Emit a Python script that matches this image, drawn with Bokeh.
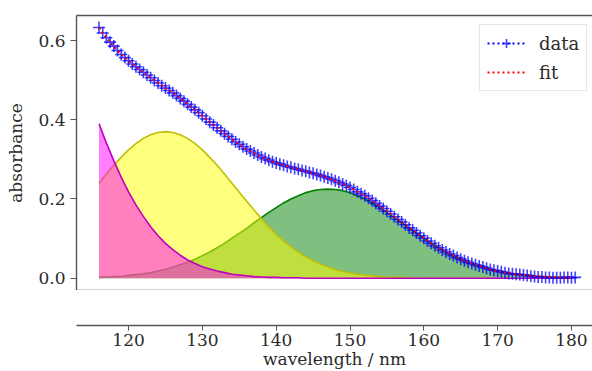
from bokeh.plotting import figure
from bokeh.models import Range1d, LinearAxis, FixedTicker, Legend, LegendItem
from bokeh.layouts import column
from bokeh.embed import file_html
from bokeh.resources import INLINE

# ---- data ----
comp_wavelength = [116, 117, 118, 119, 120, 121, 122, 123, 124, 125,
                   126, 127, 128, 129, 130, 131, 132, 133, 134, 135,
                   136, 137, 138, 139, 140, 141, 142, 143, 144, 145,
                   146, 147, 148, 149, 150, 151, 152, 153, 154, 155,
                   156, 157, 158, 159, 160, 161, 162, 163, 164, 165,
                   166, 167, 168, 169, 170, 171, 172, 173, 174, 175,
                   176, 177, 178, 179, 180]

comp_magenta = [0.390, 0.341, 0.297, 0.255, 0.218, 0.185, 0.156, 0.130, 0.107, 0.088,
                0.072, 0.058, 0.046, 0.037, 0.029, 0.023, 0.018, 0.014, 0.010, 0.008,
                0.006, 0.004, 0.003, 0.002, 0.002, 0.001, 0.001, 0.001, 0.000, 0.000,
                0.000, 0.000, 0.000, 0.000, 0.000, 0.000, 0.000, 0.000, 0.000, 0.000,
                0.000, 0.000, 0.000, 0.000, 0.000, 0.000, 0.000, 0.000, 0.000, 0.000,
                0.000, 0.000, 0.000, 0.000, 0.000, 0.000, 0.000, 0.000, 0.000, 0.000,
                0.000, 0.000, 0.000, 0.000, 0.000]

comp_yellow = [0.240, 0.263, 0.285, 0.305, 0.324, 0.340, 0.353, 0.362, 0.368, 0.370,
               0.368, 0.362, 0.353, 0.340, 0.324, 0.305, 0.285, 0.263, 0.240, 0.217,
               0.194, 0.172, 0.150, 0.130, 0.111, 0.094, 0.079, 0.066, 0.054, 0.044,
               0.035, 0.028, 0.022, 0.017, 0.013, 0.010, 0.008, 0.006, 0.004, 0.003,
               0.002, 0.002, 0.001, 0.001, 0.000, 0.000, 0.000, 0.000, 0.000, 0.000,
               0.000, 0.000, 0.000, 0.000, 0.000, 0.000, 0.000, 0.000, 0.000, 0.000,
               0.000, 0.000, 0.000, 0.000, 0.000]

comp_green = [0.002, 0.003, 0.004, 0.005, 0.007, 0.009, 0.011, 0.014, 0.018, 0.022,
              0.028, 0.034, 0.040, 0.048, 0.057, 0.066, 0.077, 0.088, 0.101, 0.113,
              0.126, 0.140, 0.153, 0.166, 0.178, 0.190, 0.200, 0.208, 0.216, 0.221,
              0.224, 0.225, 0.224, 0.221, 0.216, 0.208, 0.200, 0.190, 0.178, 0.166,
              0.153, 0.140, 0.126, 0.113, 0.101, 0.088, 0.077, 0.066, 0.057, 0.048,
              0.040, 0.034, 0.028, 0.022, 0.018, 0.014, 0.011, 0.009, 0.007, 0.005,
              0.004, 0.003, 0.002, 0.002, 0.001]

fit_values = [0.632, 0.607, 0.586, 0.565, 0.549, 0.534, 0.520, 0.506, 0.493, 0.480,
              0.468, 0.454, 0.439, 0.425, 0.410, 0.394, 0.380, 0.365, 0.351, 0.338,
              0.326, 0.316, 0.306, 0.298, 0.291, 0.285, 0.280, 0.275, 0.270, 0.265,
              0.259, 0.253, 0.246, 0.238, 0.229, 0.218, 0.208, 0.196, 0.182, 0.169,
              0.155, 0.142, 0.127, 0.114, 0.101, 0.088, 0.077, 0.066, 0.057, 0.048,
              0.040, 0.034, 0.028, 0.022, 0.018, 0.014, 0.011, 0.009, 0.007, 0.005,
              0.004, 0.003, 0.002, 0.002, 0.001]

data_wavelength = [116.0, 116.5, 117.0, 117.5, 118.0, 118.5, 119.0, 119.5, 120.0, 120.5,
                   121.0, 121.5, 122.0, 122.5, 123.0, 123.5, 124.0, 124.5, 125.0, 125.5,
                   126.0, 126.5, 127.0, 127.5, 128.0, 128.5, 129.0, 129.5, 130.0, 130.5,
                   131.0, 131.5, 132.0, 132.5, 133.0, 133.5, 134.0, 134.5, 135.0, 135.5,
                   136.0, 136.5, 137.0, 137.5, 138.0, 138.5, 139.0, 139.5, 140.0, 140.5,
                   141.0, 141.5, 142.0, 142.5, 143.0, 143.5, 144.0, 144.5, 145.0, 145.5,
                   146.0, 146.5, 147.0, 147.5, 148.0, 148.5, 149.0, 149.5, 150.0, 150.5,
                   151.0, 151.5, 152.0, 152.5, 153.0, 153.5, 154.0, 154.5, 155.0, 155.5,
                   156.0, 156.5, 157.0, 157.5, 158.0, 158.5, 159.0, 159.5, 160.0, 160.5,
                   161.0, 161.5, 162.0, 162.5, 163.0, 163.5, 164.0, 164.5, 165.0, 165.5,
                   166.0, 166.5, 167.0, 167.5, 168.0, 168.5, 169.0, 169.5, 170.0, 170.5,
                   171.0, 171.5, 172.0, 172.5, 173.0, 173.5, 174.0, 174.5, 175.0, 175.5,
                   176.0, 176.5, 177.0, 177.5, 178.0, 178.5, 179.0, 179.5, 180.0, 180.5]

data_values = [0.633, 0.619, 0.607, 0.596, 0.586, 0.575, 0.565, 0.557, 0.549, 0.541,
               0.534, 0.527, 0.520, 0.513, 0.506, 0.499, 0.493, 0.486, 0.480, 0.474,
               0.468, 0.461, 0.454, 0.447, 0.439, 0.432, 0.425, 0.418, 0.410, 0.402,
               0.394, 0.387, 0.380, 0.372, 0.365, 0.358, 0.351, 0.344, 0.338, 0.332,
               0.326, 0.321, 0.316, 0.311, 0.306, 0.302, 0.298, 0.294, 0.291, 0.288,
               0.285, 0.282, 0.280, 0.277, 0.275, 0.272, 0.270, 0.267, 0.265, 0.262,
               0.259, 0.256, 0.253, 0.250, 0.246, 0.242, 0.238, 0.234, 0.229, 0.224,
               0.218, 0.213, 0.208, 0.202, 0.196, 0.189, 0.182, 0.176, 0.169, 0.162,
               0.155, 0.148, 0.142, 0.135, 0.127, 0.121, 0.114, 0.107, 0.101, 0.094,
               0.088, 0.082, 0.077, 0.071, 0.066, 0.061, 0.057, 0.052, 0.048, 0.044,
               0.040, 0.037, 0.034, 0.031, 0.028, 0.025, 0.022, 0.020, 0.018, 0.016,
               0.014, 0.012, 0.011, 0.010, 0.009, 0.008, 0.007, 0.005, 0.004, 0.003,
               0.003, 0.002, 0.002, 0.001, 0.001, 0.001, 0.002, 0.002, 0.001, 0.002]

y_ticks = [0.0, 0.2, 0.4, 0.6]
y_tick_labels = ["0.0", "0.2", "0.4", "0.6"]
x_ticks = [120, 130, 140, 150, 160, 170, 180]

# ---- styling ----
FONT = "DejaVu Serif"
SPINE = "#555555"
TEXT = "#2a2a2a"

x_range = Range1d(112.95, 182.85)

p1 = figure(width=592, height=290, x_range=x_range, y_range=Range1d(-0.0311, 0.6633),
            output_backend="svg", toolbar_location=None,
            min_border_left=76, min_border_right=0, min_border_top=15, min_border_bottom=0)
p1.grid.visible = False
p1.outline_line_color = None
p1.background_fill_color = "white"

# left axis
ya = p1.yaxis[0]
ya.ticker = FixedTicker(ticks=y_ticks)
ya.major_label_overrides = {t: l for t, l in zip(y_ticks, y_tick_labels)}
ya.axis_label = "absorbance"
ya.axis_label_text_font = FONT
ya.axis_label_text_font_size = "17px"
ya.axis_label_text_font_style = "normal"
ya.axis_label_text_color = TEXT
ya.axis_label_standoff = 9
ya.major_label_text_font = FONT
ya.major_label_text_font_size = "17px"
ya.major_label_text_color = TEXT
ya.major_label_standoff = 5
ya.major_tick_out = 6
ya.major_tick_in = 0
ya.minor_tick_line_color = None
ya.axis_line_color = SPINE
ya.major_tick_line_color = SPINE
ya.axis_line_width = 1.4

# bottom spine of main panel (no ticks)
xa = p1.xaxis[0]
xa.ticker = FixedTicker(ticks=[])
xa.major_tick_line_color = None
xa.minor_tick_line_color = None
xa.major_label_text_font_size = "0px"
xa.axis_line_color = SPINE
xa.axis_line_width = 1.4

# top spine
top = LinearAxis(ticker=FixedTicker(ticks=[]), axis_line_color=SPINE, axis_line_width=1.4,
                 major_tick_line_color=None, minor_tick_line_color=None,
                 major_label_text_font_size="0px")
p1.add_layout(top, "above")

# components: green, yellow, magenta
p1.varea(x=comp_wavelength, y1=0, y2=comp_green, fill_color="green", fill_alpha=0.5)
p1.line(comp_wavelength, comp_green, line_color="green", line_width=1.6)
p1.varea(x=comp_wavelength, y1=0, y2=comp_yellow, fill_color="yellow", fill_alpha=0.5)
p1.line(comp_wavelength, comp_yellow, line_color="#bfbf00", line_width=1.6)
p1.varea(x=comp_wavelength, y1=0, y2=comp_magenta, fill_color="magenta", fill_alpha=0.5)
p1.line(comp_wavelength, comp_magenta, line_color="#bf00bf", line_width=1.6)

# data and fit
dl = p1.line(data_wavelength, data_values, line_color="blue", line_width=1.8,
             line_dash="2 3")
ds = p1.scatter(data_wavelength, data_values, marker="cross", size=12,
                line_color="blue", line_width=1.6, line_alpha=0.75)
fl = p1.line(comp_wavelength, fit_values, line_color="red", line_width=2,
             line_dash="2 3")

legend = Legend(items=[LegendItem(label="data", renderers=[dl, ds]),
                       LegendItem(label="fit", renderers=[fl])],
                location=(403, 199), margin=0, padding=7, spacing=7,
                glyph_width=38, glyph_height=22, label_height=22,
                label_standoff=14, label_text_font=FONT,
                label_text_font_size="18px", label_text_color=TEXT,
                border_line_color="#d0d0d0", border_line_width=1,
                background_fill_alpha=0.85)
p1.add_layout(legend, "center")

# lower (residual) panel: only bottom axis
p2 = figure(width=592, height=81, x_range=x_range, y_range=Range1d(-0.01, 0.01),
            output_backend="svg", toolbar_location=None, y_axis_location=None,
            min_border_left=76, min_border_right=0, min_border_top=0, min_border_bottom=0)
p2.grid.visible = False
p2.outline_line_color = None
bx = p2.xaxis[0]
bx.ticker = FixedTicker(ticks=x_ticks)
bx.axis_label = "wavelength / nm"
bx.axis_label_text_font = FONT
bx.axis_label_text_font_size = "17px"
bx.axis_label_text_font_style = "normal"
bx.axis_label_text_color = TEXT
bx.axis_label_standoff = 0
bx.major_label_text_font = FONT
bx.major_label_text_font_size = "17px"
bx.major_label_text_color = TEXT
bx.major_label_standoff = 3
bx.major_tick_out = 5
bx.major_tick_in = 0
bx.minor_tick_line_color = None
bx.axis_line_color = SPINE
bx.major_tick_line_color = SPINE
bx.axis_line_width = 1.4

layout = column(p1, p2, spacing=0)
open("out.html", "w").write(file_html(layout, INLINE))
